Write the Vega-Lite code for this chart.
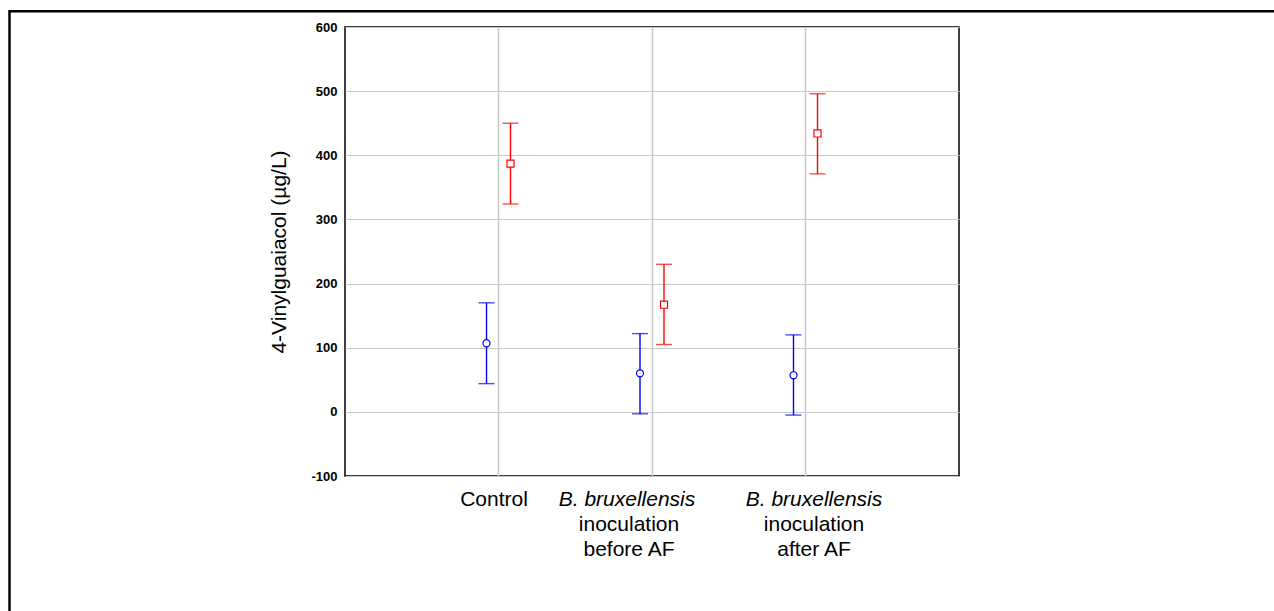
{
  "$schema": "https://vega.github.io/schema/vega-lite/v6.json",
  "autosize": "none",
  "width": 614,
  "height": 449,
  "padding": {"left": 345, "top": 27, "right": 315, "bottom": 135},
  "background": "#ffffff",
  "config": {
    "view": {"stroke": "#000000", "strokeWidth": 1.5},
    "font": "Liberation Sans"
  },
  "datasets": {
    "means": [
      {"group": "Control", "series": "S1", "mean": 107, "lower": 44, "upper": 170},
      {"group": "Control", "series": "S2", "mean": 387, "lower": 324, "upper": 450},
      {"group": "B. bruxellensis inoculation before AF", "series": "S1", "mean": 60, "lower": -3, "upper": 122},
      {"group": "B. bruxellensis inoculation before AF", "series": "S2", "mean": 167, "lower": 105, "upper": 230},
      {"group": "B. bruxellensis inoculation after AF", "series": "S1", "mean": 57, "lower": -5, "upper": 120},
      {"group": "B. bruxellensis inoculation after AF", "series": "S2", "mean": 434, "lower": 371, "upper": 496}
    ],
    "frame": [
      {"left": 0, "right": 1, "top": 0, "bottom": 1}
    ]
  },
  "layer": [
    {
      "data": {"name": "frame"},
      "mark": {"type": "rect", "fill": null, "stroke": "#000000", "strokeWidth": 2.5, "clip": false},
      "encoding": {
        "x": {"field": "left", "type": "quantitative", "axis": null, "scale": {"domain": [0, 1], "range": [-335.5, 1400], "nice": false, "zero": false}},
        "x2": {"field": "right"},
        "y": {"field": "top", "type": "quantitative", "axis": null, "scale": {"domain": [0, 1], "range": [-15.8, 800], "nice": false, "zero": false}},
        "y2": {"field": "bottom"}
      }
    },
    {
      "data": {"name": "means"},
      "layer": [
        {
          "encoding": {
            "x": {
              "field": "group",
              "type": "nominal",
              "sort": null,
              "scale": {
                "domain": ["Control", "B. bruxellensis inoculation before AF", "B. bruxellensis inoculation after AF"],
                "paddingInner": 0,
                "paddingOuter": 0.5
              },
              "axis": {
                "title": null,
                "orient": "bottom",
                "bandPosition": 0.5,
                "grid": true,
                "gridColor": "#c8c8c8",
                "gridWidth": 1.5,
                "ticks": false,
                "domain": false,
                "labelAngle": 0,
                "labelFont": "Liberation Sans",
                "labelFontSize": 21,
                "labelColor": "#000000",
                "labelBaseline": "top",
                "labelLineHeight": 25,
                "labelPadding": 12,
                "labelLimit": 0,
                "labelOverlap": false,
                "labelOffset": {
                  "condition": [
                    {"test": "datum.value == 'Control'", "value": -4.5},
                    {"test": "datum.value == 'B. bruxellensis inoculation before AF'", "value": -23}
                  ],
                  "value": 8.5
                },
                "labelExpr": "datum.value == 'Control' ? 'Control' : (datum.value == 'B. bruxellensis inoculation before AF' ? ['', 'inoculation', 'before AF'] : ['', 'inoculation', 'after AF'])"
              }
            },
            "xOffset": {"field": "series", "type": "nominal", "scale": {"type": "point", "domain": ["S1", "S2"], "range": [64.75, 88.75], "padding": 0}},
            "color": {"field": "series", "type": "nominal", "scale": {"domain": ["S1", "S2"], "range": ["#0000ff", "#ff0000"]}, "legend": null}
          },
          "layer": [
            {
              "mark": {"type": "rule", "strokeWidth": 1.4},
              "encoding": {
                "y": {
                  "field": "lower",
                  "type": "quantitative",
                  "scale": {"domain": [-100, 600], "nice": false, "zero": false},
                  "axis": {
                    "title": "4-Vinylguaiacol (µg/L)",
                    "titleFont": "Liberation Sans",
                    "titleFontSize": 21,
                    "titleFontWeight": "normal",
                    "titleColor": "#000000",
                    "titlePadding": 21,
                    "values": [-100, 0, 100, 200, 300, 400, 500, 600],
                    "labelExpr": "'' + datum.value",
                    "grid": true,
                    "gridColor": "#c8c8c8",
                    "gridWidth": 1,
                    "ticks": false,
                    "domain": false,
                    "labelFont": "Liberation Sans",
                    "labelFontSize": 13,
                    "labelFontWeight": "bold",
                    "labelColor": "#000000",
                    "labelPadding": 8
                  }
                },
                "y2": {"field": "upper"}
              }
            },
            {
              "mark": {"type": "tick", "size": 16, "thickness": 1.4},
              "encoding": {"y": {"field": "upper", "type": "quantitative"}}
            },
            {
              "mark": {"type": "point", "filled": true, "fill": "#ffffff", "fillOpacity": 1, "opacity": 1, "strokeWidth": 1.2, "size": 50},
              "encoding": {
                "y": {"field": "mean", "type": "quantitative"},
                "stroke": {"field": "series", "type": "nominal", "scale": {"domain": ["S1", "S2"], "range": ["#0000ff", "#ff0000"]}, "legend": null},
                "shape": {"field": "series", "type": "nominal", "scale": {"domain": ["S1", "S2"], "range": ["circle", "square"]}, "legend": null}
              }
            }
          ]
        },
        {
          "mark": {"type": "tick", "size": 16, "thickness": 1.4},
          "encoding": {
            "x": {
              "field": "group",
              "type": "nominal",
              "sort": null,
              "axis": {
                "title": null,
                "orient": "bottom",
                "bandPosition": 0.5,
                "grid": false,
                "ticks": false,
                "domain": false,
                "labelAngle": 0,
                "labelFont": "Liberation Sans",
                "labelFontSize": 21,
                "labelFontStyle": "italic",
                "labelColor": "#000000",
                "labelBaseline": "top",
                "labelPadding": 12,
                "labelLimit": 0,
                "labelOverlap": false,
                "labelOffset": {
                  "condition": [
                    {"test": "datum.value == 'Control'", "value": -4.5},
                    {"test": "datum.value == 'B. bruxellensis inoculation before AF'", "value": -25}
                  ],
                  "value": 8.5
                },
                "labelExpr": "datum.value == 'Control' ? '' : 'B. bruxellensis'"
              }
            },
            "xOffset": {"field": "series", "type": "nominal", "scale": {"type": "point", "domain": ["S1", "S2"], "range": [64.75, 88.75], "padding": 0}},
            "color": {"field": "series", "type": "nominal", "scale": {"domain": ["S1", "S2"], "range": ["#0000ff", "#ff0000"]}, "legend": null},
            "y": {"field": "lower", "type": "quantitative"}
          }
        }
      ],
      "resolve": {"axis": {"x": "independent"}}
    }
  ],
  "resolve": {"scale": {"x": "independent", "y": "independent"}}
}
